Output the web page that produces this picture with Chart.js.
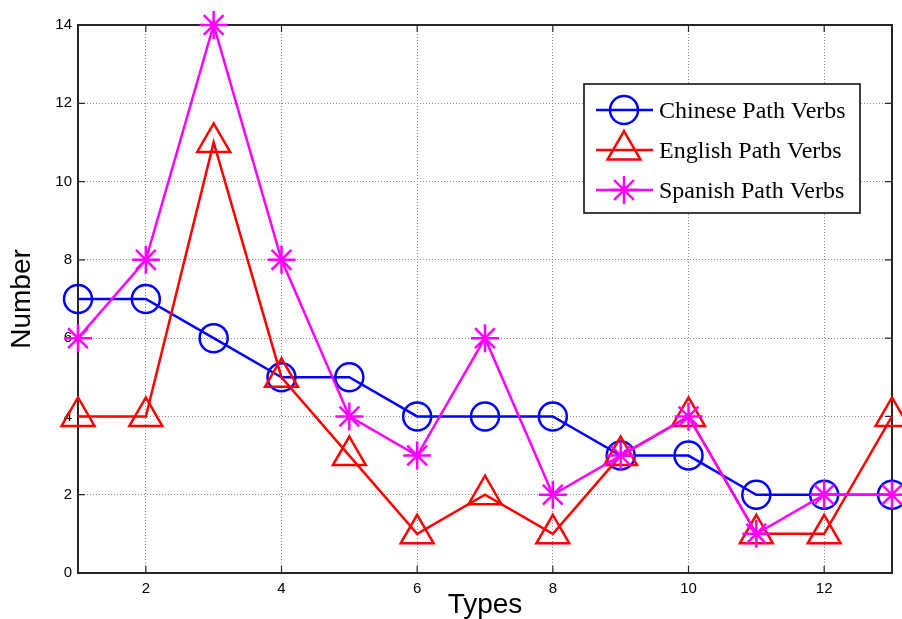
<!DOCTYPE html>
<html lang="en">
<head>
  <meta charset="UTF-8">
  <title>Path Verbs</title>
  <script src="https://cdn.jsdelivr.net/npm/chart.js"></script>
  <style>
    html, body { margin: 0; padding: 0; background: #fff; }
    #wrap { width: 902px; height: 619px; }
  </style>
</head>
<body>
  <div id="wrap"><canvas id="c" width="902" height="619"></canvas></div>

  <script>
    // data
    const types = [1, 2, 3, 4, 5, 6, 7, 8, 9, 10, 11, 12, 13];
    const chinese = [7, 7, 6, 5, 5, 4, 4, 4, 3, 3, 2, 2, 2];
    const english = [4, 4, 11, 5, 3, 1, 2, 1, 3, 4, 1, 1, 4];
    const spanish = [6, 8, 14, 8, 4, 3, 6, 2, 3, 4, 1, 2, 2];
    const xTicks = [2, 4, 6, 8, 10, 12];
    const yTicks = [0, 2, 4, 6, 8, 10, 12, 14];
    const seriesNames = ['Chinese Path Verbs', 'English Path Verbs', 'Spanish Path Verbs'];

    const toPoints = arr => types.map((t, i) => ({ x: t, y: arr[i] }));

    function marker(ctx, style, x, y, r) {
      ctx.beginPath();
      if (style === 'circle') {
        ctx.arc(x, y, r, 0, Math.PI * 2);
      } else if (style === 'triangle') {
        let rad = 0;
        ctx.moveTo(x + Math.sin(rad) * r, y - Math.cos(rad) * r);
        rad += Math.PI * 2 / 3;
        ctx.lineTo(x + Math.sin(rad) * r, y - Math.cos(rad) * r);
        rad += Math.PI * 2 / 3;
        ctx.lineTo(x + Math.sin(rad) * r, y - Math.cos(rad) * r);
        ctx.closePath();
      } else {
        for (let k = 0; k < 4; k++) {
          const a = k * Math.PI / 4;
          ctx.moveTo(x - Math.cos(a) * r, y - Math.sin(a) * r);
          ctx.lineTo(x + Math.cos(a) * r, y + Math.sin(a) * r);
        }
      }
      ctx.stroke();
    }

    // box, inward ticks and the legend, MATLAB style
    const matlabBox = {
      id: 'matlabBox',
      beforeDatasetsDraw(chart) {
        const { ctx, chartArea: a, scales } = chart;
        ctx.save();
        ctx.strokeStyle = '#262626';
        ctx.lineWidth = 2;
        ctx.strokeRect(a.left, a.top, a.right - a.left, a.bottom - a.top);
        ctx.lineWidth = 1.2;
        ctx.beginPath();
        xTicks.forEach(v => {
          const px = scales.x.getPixelForValue(v);
          ctx.moveTo(px, a.bottom); ctx.lineTo(px, a.bottom - 7);
          ctx.moveTo(px, a.top); ctx.lineTo(px, a.top + 7);
        });
        yTicks.forEach(v => {
          const py = scales.y.getPixelForValue(v);
          ctx.moveTo(a.left, py); ctx.lineTo(a.left + 7, py);
          ctx.moveTo(a.right, py); ctx.lineTo(a.right - 7, py);
        });
        ctx.stroke();
        ctx.restore();
      },
      afterDraw(chart) {
        const ctx = chart.ctx;
        const bx = 584, by = 84, bw = 276, bh = 129;
        ctx.save();
        ctx.fillStyle = '#fff';
        ctx.fillRect(bx, by, bw, bh);
        ctx.strokeStyle = '#000';
        ctx.lineWidth = 1.5;
        ctx.strokeRect(bx, by, bw, bh);
        ctx.font = '24px "Liberation Serif", "Times New Roman", serif';
        ctx.textBaseline = 'middle';
        chart.data.datasets.forEach((ds, i) => {
          const y = 110 + i * 40;
          ctx.strokeStyle = ds.borderColor;
          ctx.lineWidth = 2.5;
          ctx.beginPath();
          ctx.moveTo(596, y); ctx.lineTo(653, y);
          ctx.stroke();
          marker(ctx, ds.pointStyle, 624, y, ds.pointRadius);
          ctx.fillStyle = '#000';
          ctx.fillText(seriesNames[i], 659, y + 2);
        });
        ctx.restore();
      }
    };

    const tickFont = { family: '"Liberation Sans", Arial, sans-serif', size: 15 };
    const titleFont = { family: '"Liberation Sans", Arial, sans-serif', size: 28, lineHeight: 1 };

    new Chart(document.getElementById('c'), {
      type: 'line',
      data: {
        datasets: [
          { label: seriesNames[0], data: toPoints(chinese), borderColor: '#0000ff', pointStyle: 'circle', pointRadius: 14, order: 3 },
          { label: seriesNames[1], data: toPoints(english), borderColor: '#ff0000', pointStyle: 'triangle', pointRadius: 19, order: 2 },
          { label: seriesNames[2], data: toPoints(spanish), borderColor: '#ff00ff', pointStyle: 'star', pointRadius: 14, order: 1 }
        ].map(ds => Object.assign(ds, {
          backgroundColor: 'rgba(0,0,0,0)',
          pointBorderColor: ds.borderColor,
          pointBackgroundColor: 'rgba(0,0,0,0)',
          borderWidth: 2.5,
          pointBorderWidth: 2.5,
          pointHoverRadius: ds.pointRadius,
          tension: 0,
          clip: false
        }))
      },
      options: {
        responsive: false,
        animation: false,
        layout: { autoPadding: false, padding: { top: 25, right: 10, left: 0, bottom: 0 } },
        plugins: { legend: { display: false }, tooltip: { enabled: false } },
        scales: {
          x: {
            type: 'linear',
            min: 1,
            max: 13,
            afterBuildTicks: s => { s.ticks = xTicks.map(v => ({ value: v })); },
            afterFit: s => { s.height = 46; },
            ticks: { color: '#000', font: tickFont, padding: 7, autoSkip: false, maxRotation: 0 },
            grid: { color: '#8c8c8c', lineWidth: 1, drawTicks: false },
            border: { display: false, dash: [1, 2] },
            title: { display: true, text: 'Types', color: '#000', font: titleFont, padding: { top: 0, bottom: 0 } }
          },
          y: {
            min: 0,
            max: 14,
            afterBuildTicks: s => { s.ticks = yTicks.map(v => ({ value: v })); },
            afterFit: s => { s.width = 78; },
            ticks: { color: '#000', font: tickFont, padding: 6 },
            grid: { color: '#8c8c8c', lineWidth: 1, drawTicks: false },
            border: { display: false, dash: [1, 2] },
            title: { display: true, text: 'Number', color: '#000', font: titleFont, padding: { top: 8, bottom: 0 } }
          }
        }
      },
      plugins: [matlabBox]
    });
  </script>
</body>
</html>
